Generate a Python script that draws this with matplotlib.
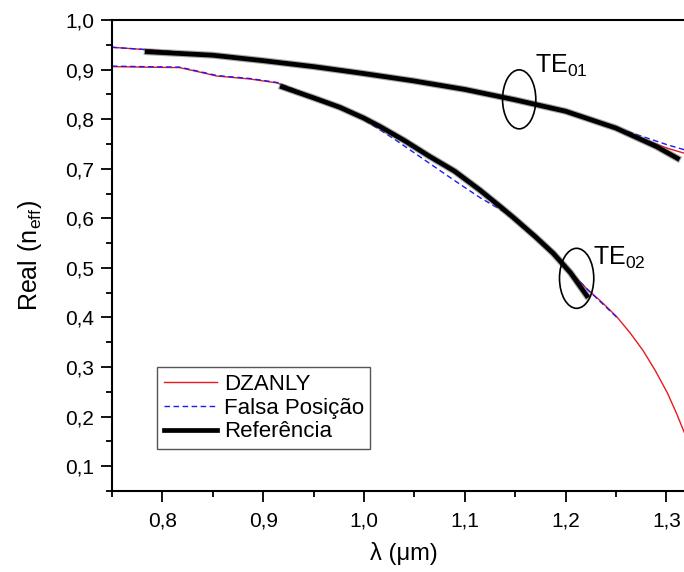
import numpy as np
import matplotlib
matplotlib.use('Agg')
from matplotlib import pyplot as plt
from matplotlib.patches import Ellipse
from matplotlib.ticker import MultipleLocator, FuncFormatter

plt.rcParams['font.family'] = ['Liberation Sans', 'DejaVu Sans']

# TE01 mode
te01_x = [0.75, 0.80, 0.85, 0.90, 0.95, 1.00, 1.05, 1.10, 1.15, 1.20, 1.25, 1.30, 1.32]
te01_dz = [0.945, 0.938, 0.929, 0.918, 0.907, 0.893, 0.878, 0.861, 0.840, 0.815, 0.782, 0.742, 0.730]
te01_fp = [0.945, 0.938, 0.929, 0.918, 0.907, 0.893, 0.878, 0.861, 0.840, 0.815, 0.783, 0.749, 0.737]
te01_ref_x = [0.785, 0.85, 0.90, 0.95, 1.00, 1.05, 1.10, 1.15, 1.20, 1.25, 1.29, 1.311]
te01_ref = [0.936, 0.929, 0.918, 0.906, 0.892, 0.877, 0.860, 0.839, 0.816, 0.782, 0.745, 0.721]

# TE02 mode
te02_dz_x = [0.75, 0.78, 0.817, 0.837, 0.854, 0.887, 0.914, 0.93, 0.95, 0.976, 1.00, 1.016,
             1.04, 1.065, 1.09, 1.115, 1.135, 1.148, 1.17, 1.188, 1.205, 1.221, 1.237, 1.251,
             1.264, 1.277, 1.289, 1.301, 1.31, 1.32]
te02_dz = [0.906, 0.905, 0.904, 0.895, 0.887, 0.881, 0.873, 0.861, 0.843, 0.823, 0.801, 0.784,
           0.756, 0.725, 0.694, 0.657, 0.625, 0.603, 0.563, 0.529, 0.492, 0.458, 0.429, 0.401,
           0.369, 0.333, 0.293, 0.248, 0.207, 0.157]
te02_fp_x = [0.75, 0.78, 0.817, 0.837, 0.854, 0.887, 0.914, 0.93, 0.95, 0.976, 1.00, 1.03,
             1.065, 1.09, 1.115, 1.135, 1.148, 1.172, 1.19, 1.205, 1.221, 1.251]
te02_fp = [0.907, 0.906, 0.905, 0.896, 0.888, 0.882, 0.874, 0.861, 0.843, 0.823, 0.799, 0.760,
           0.711, 0.676, 0.642, 0.618, 0.602, 0.558, 0.526, 0.492, 0.458, 0.400]
te02_ref_x = [0.919, 0.95, 0.976, 1.00, 1.016, 1.04, 1.065, 1.09, 1.115, 1.135, 1.148, 1.17,
              1.188, 1.205, 1.221]
te02_ref = [0.865, 0.843, 0.824, 0.802, 0.785, 0.757, 0.725, 0.695, 0.657, 0.624, 0.602, 0.563,
            0.529, 0.490, 0.444]

fig = plt.figure(figsize=(6.84, 5.72), dpi=100)
ax = fig.add_axes([0.1637, 0.1416, 0.8547, 0.8234])

ax.plot(te01_x, te01_dz, color='#e8191e', lw=1.0, label='DZANLY')
ax.plot(te02_dz_x, te02_dz, color='#e8191e', lw=1.0)
ax.plot(te01_x, te01_fp, color='#1a1aff', lw=1.0, ls=(0, (4, 2.5)), label='Falsa Posição')
ax.plot(te02_fp_x, te02_fp, color='#1a1aff', lw=1.0, ls=(0, (4, 2.5)))
ax.plot(te01_ref_x, te01_ref, color='#555555', lw=5.0, alpha=0.5)
ax.plot(te02_ref_x, te02_ref, color='#555555', lw=5.0, alpha=0.5)
ax.plot(te01_ref_x, te01_ref, color='black', lw=3.4, label='Referência')
ax.plot(te02_ref_x, te02_ref, color='black', lw=3.4)

ax.add_patch(Ellipse((1.154, 0.840), 0.033, 0.119, fill=False, ec='black', lw=1.2, zorder=5))
ax.add_patch(Ellipse((1.211, 0.479), 0.034, 0.121, fill=False, ec='black', lw=1.2, zorder=5))
ax.text(1.170, 0.907, r'$\mathregular{TE_{01}}$', fontsize=18, va='center')
ax.text(1.227, 0.520, r'$\mathregular{TE_{02}}$', fontsize=18, va='center')

ax.set_xlim(0.75, 1.33)
ax.set_ylim(0.05, 1.0)
ax.xaxis.set_major_locator(MultipleLocator(0.1))
ax.xaxis.set_minor_locator(MultipleLocator(0.05))
ax.yaxis.set_major_locator(MultipleLocator(0.1))
ax.yaxis.set_minor_locator(MultipleLocator(0.05))
comma = FuncFormatter(lambda v, p: ('%.1f' % v).replace('.', ','))
ax.xaxis.set_major_formatter(comma)
ax.yaxis.set_major_formatter(comma)
ax.tick_params(which='major', direction='out', length=8, width=1.3, labelsize=15)
ax.tick_params(which='minor', direction='out', length=4, width=1.3)
ax.tick_params(axis='x', pad=7)
ax.tick_params(axis='y', pad=5)
for s in ax.spines.values():
    s.set_linewidth(1.5)

ax.set_xlabel('λ (μm)', fontsize=17, labelpad=8)
ax.set_ylabel(r'$\mathregular{Real\ (n_{eff})}$', fontsize=18, labelpad=15)

leg = ax.legend(loc='lower left', bbox_to_anchor=(0.077, 0.089), fontsize=16,
                fancybox=False, framealpha=1, edgecolor='#555555', borderpad=0.3,
                handlelength=2.4, handletextpad=0.3, labelspacing=0.12, borderaxespad=0)
leg.get_frame().set_linewidth(1.0)

fig.savefig('out.png', dpi=100)
